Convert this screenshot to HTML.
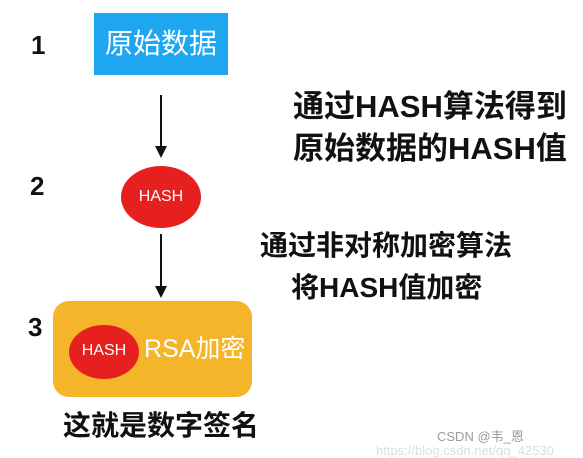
<!DOCTYPE html>
<html><head><meta charset="utf-8"><style>
body{margin:0;width:583px;height:453px;background:#fff;position:relative;overflow:hidden;font-family:"Liberation Sans","Noto Sans CJK SC",sans-serif}
.a{position:absolute;white-space:nowrap;line-height:1}
.n{font-weight:bold;font-size:26px;color:#111}
.t{font-weight:bold;font-size:31px;color:#111}
</style></head><body>
<div class="a n" style="left:31px;top:32px">1</div>
<div class="a n" style="left:30px;top:173px">2</div>
<div class="a n" style="left:28px;top:314px">3</div>
<div class="a" style="left:94px;top:13px;width:134px;height:62px;background:#1ea6f0;color:#fff;font-size:28px;display:flex;align-items:center;justify-content:center">原始数据</div>
<svg class="a" style="left:0;top:0" width="583" height="453">
<line x1="161" y1="95" x2="161" y2="148" stroke="#111" stroke-width="2"/>
<polygon points="155,146 167,146 161,158" fill="#111"/>
<line x1="161" y1="234" x2="161" y2="288" stroke="#111" stroke-width="2"/>
<polygon points="155,286 167,286 161,298" fill="#111"/>
<ellipse cx="161" cy="197" rx="40" ry="31" fill="#e5201e"/>
<rect x="53" y="301" width="199" height="96" rx="16" fill="#f4b52a"/>
<ellipse cx="104" cy="352" rx="35" ry="27" fill="#e5201e"/>
</svg>
<div class="a" style="left:121px;top:189px;width:80px;text-align:center;color:#fff;font-size:16px">HASH</div>
<div class="a" style="left:69px;top:343px;width:70px;text-align:center;color:#fff;font-size:16px">HASH</div>
<div class="a" style="left:144px;top:337px;color:#fff;font-size:25px">RSA加密</div>
<div class="a t" style="left:293px;top:91px">通过HASH算法得到</div>
<div class="a t" style="left:293px;top:133px">原始数据的HASH值</div>
<div class="a t" style="left:260px;top:232px;font-size:28px">通过非对称加密算法</div>
<div class="a t" style="left:291px;top:274px;font-size:28px">将HASH值加密</div>
<div class="a t" style="left:63px;top:412px;font-size:28px">这就是数字签名</div>
<div class="a" style="left:437px;top:430px;color:#999;font-size:13px">CSDN @韦_恩</div>
<div class="a" style="left:376px;top:444px;color:#ddd;font-size:13px">https://blog.csdn.net/qq_42530</div>
</body></html>
